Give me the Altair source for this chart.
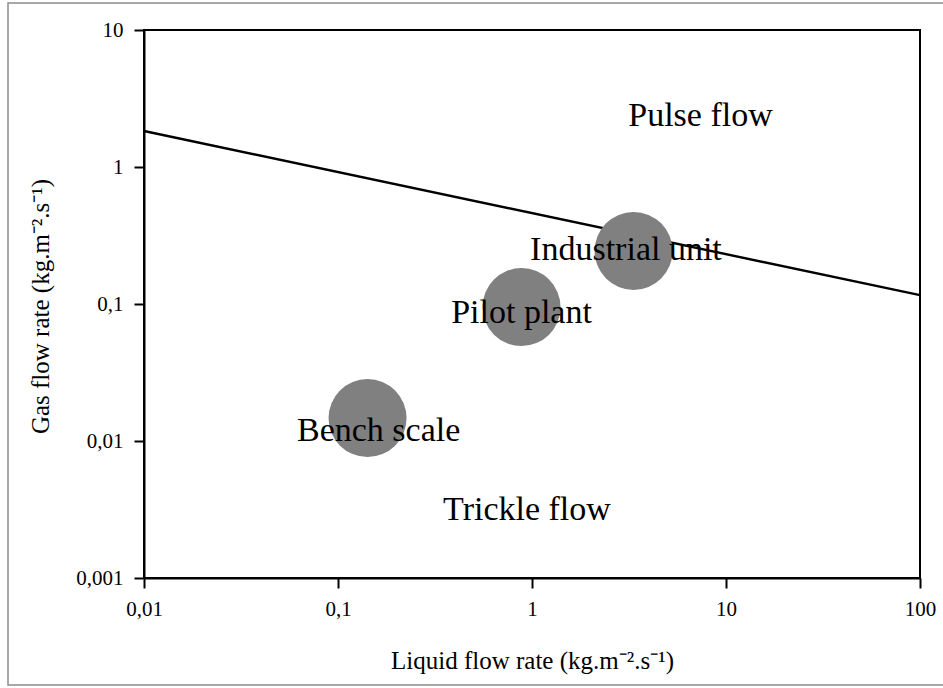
import altair as alt
import pandas as pd

# Transition line between trickle and pulse flow
line_liquid = [0.01, 100]
line_gas = [1.83, 0.116]

# Reactor scales (circles)
scale_names = ["Bench scale", "Pilot plant", "Industrial unit"]
scale_liquid = [0.142, 0.883, 3.34]
scale_gas = [0.0147, 0.095, 0.244]

# Text labels
label_text = ["Pulse flow", "Industrial unit", "Pilot plant", "Bench scale", "Trickle flow"]
label_liquid = [7.39, 3.05, 0.883, 0.162, 0.942]
label_gas = [1.99, 0.209, 0.0726, 0.01, 0.00265]

x_ticks = [0.01, 0.1, 1, 10, 100]
y_ticks = [0.001, 0.01, 0.1, 1, 10]

line_df = pd.DataFrame({"liquid": line_liquid, "gas": line_gas})
circ_df = pd.DataFrame({"name": scale_names, "liquid": scale_liquid, "gas": scale_gas})
lab_df = pd.DataFrame({"text": label_text, "liquid": label_liquid, "gas": label_gas})

FONT = "Liberation Serif"
W, H = 776, 548
LEFT, TOP = 144, 30
RIGHT, BOTTOM = 943 - LEFT - W, 688 - TOP - H

label_expr = "replace(format(datum.value, '~g'), '.', ',')"

x_enc = alt.X(
    "liquid:Q",
    scale=alt.Scale(type="log", domain=[0.01, 100], nice=False),
    axis=alt.Axis(
        values=x_ticks, labelExpr=label_expr, grid=False,
        title="Liquid flow rate (kg.m⁻².s⁻¹)",
        titleY=90, titleBaseline="alphabetic",
        labelPadding=10,
    ),
)
y_enc = alt.Y(
    "gas:Q",
    scale=alt.Scale(type="log", domain=[0.001, 10], nice=False),
    axis=alt.Axis(
        values=y_ticks, labelExpr=label_expr, grid=False,
        title="Gas flow rate (kg.m⁻².s⁻¹)",
        titleX=-104, titleY=276, titleAngle=-90, titleBaseline="middle",
        titleAlign="center",
        labelPadding=11,
    ),
)

frame = alt.Chart(pd.DataFrame({"a": [0]})).mark_rect(
    fill=None, stroke="#8c8c8c", strokeWidth=1.5
).encode(
    x=alt.value(8 - LEFT), x2=alt.value(960 - LEFT),
    y=alt.value(3 - TOP), y2=alt.value(685 - TOP),
)

line = alt.Chart(line_df).mark_line(color="black", strokeWidth=2.4).encode(x=x_enc, y=y_enc)

circles = alt.Chart(circ_df).mark_circle(size=6084, color="#808080", opacity=1).encode(
    x=x_enc, y=y_enc
)

labels = alt.Chart(lab_df).mark_text(
    font=FONT, fontSize=34, color="black", align="center", baseline="alphabetic"
).encode(x=x_enc, y=y_enc, text="text:N")

chart = alt.layer(line, circles, labels, frame).properties(
    width=W, height=H,
    autosize=alt.AutoSizeParams(type="none"),
    padding={"left": LEFT, "top": TOP, "right": RIGHT, "bottom": BOTTOM},
    background="white",
).configure_view(
    stroke="black", strokeWidth=2
).configure_axis(
    labelFont=FONT, labelFontSize=21, labelColor="black",
    titleFont=FONT, titleFontSize=25, titleFontWeight="normal", titleColor="black",
    tickSize=10, tickWidth=2, tickColor="black",
    domainColor="black", domainWidth=2, labelFlush=False,
)

chart.save("out.html", embed_options={"renderer": "svg", "actions": False})
